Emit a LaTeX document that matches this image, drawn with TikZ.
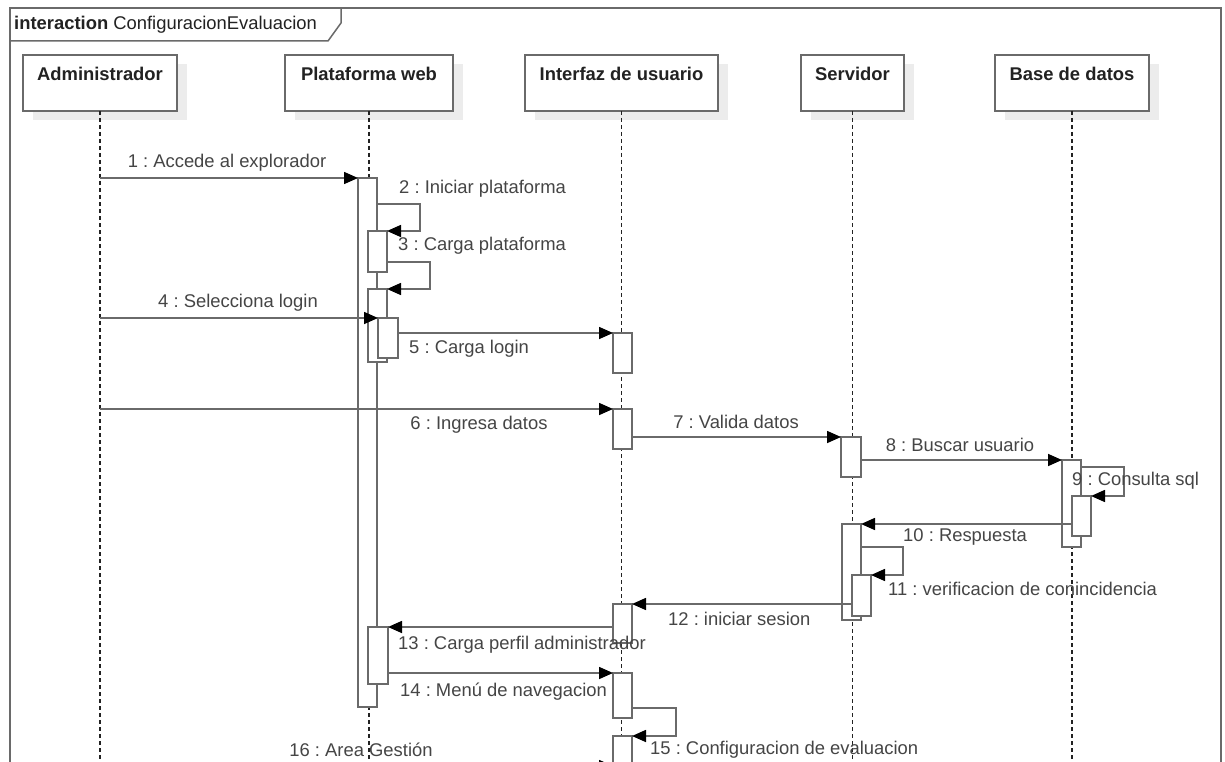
\documentclass[tikz,border=0pt]{standalone}
\usepackage{fontspec}
\setmainfont{Liberation Sans}
\usetikzlibrary{arrows.meta,calc,shadows}
\definecolor{ln}{HTML}{6A6A6A}
\definecolor{tx}{HTML}{454545}
\definecolor{hd}{HTML}{222222}
\definecolor{shd}{HTML}{ECECEC}
\frenchspacing
\begin{document}
\begin{tikzpicture}[x=1pt,y=-1pt,
  frame/.style={draw=ln, line width=1.5pt},
  head/.style={draw=ln, fill=white, line width=1.5pt, anchor=north west, outer sep=0pt, inner sep=0pt,
    general shadow={fill=shd, shadow xshift=10pt, shadow yshift=-9pt}},
  headlbl/.style={text=hd, font=\fontsize{18.4}{21}\selectfont\bfseries, anchor=north, yshift=-9pt},
  life/.style={draw=hd, line width=1.1pt, dash pattern=on 4pt off 3pt},
  bar/.style={draw=ln, fill=white, line width=1.6pt, anchor=north west, outer sep=0pt, inner sep=0pt},
  msg/.style={draw=ln, line width=1.6pt, -{Triangle[length=14pt,width=12pt,color=black]}},
  lbl/.style={text=tx, font=\fontsize{18.4}{21}\selectfont, inner sep=0pt},
]
\useasboundingbox (0,0) rectangle (1225,762);
\clip (0,0) rectangle (1225,762);
\fill[white] (0,0) rectangle (1225,762);

% frame
\draw[frame] (10,770) -- (10,8) -- (1221,8) -- (1221,770);
\draw[frame] (10,41) -- (328,41) -- (341,23) -- (341,8);
\node[anchor=west, inner sep=0pt, text=hd, font=\fontsize{18.4}{21}\selectfont] (title) at (14,25)
  {\textbf{interaction} ConfiguracionEvaluacion};

% headers
\node[head, minimum width=154pt, minimum height=56pt] (adm) at (23,55) {};
\node[head, minimum width=168pt, minimum height=56pt] (plat) at (285,55) {};
\node[head, minimum width=193pt, minimum height=56pt] (intf) at (525,55) {};
\node[head, minimum width=103pt, minimum height=56pt] (serv) at (801,55) {};
\node[head, minimum width=154pt, minimum height=56pt] (bd) at (995,55) {};
\node[headlbl] (admt) at (adm.north) {Administrador};
\node[headlbl] (platt) at (plat.north) {Plataforma web};
\node[headlbl] (intft) at (intf.north) {Interfaz de usuario};
\node[headlbl] (servt) at (serv.north) {Servidor};
\node[headlbl] (bdt) at (bd.north) {Base de datos};

% lifelines
\coordinate (bot) at (0,775);
\draw[life] (adm.south) -- (adm.south |- bot);
\draw[life] (plat.south) -- (plat.south |- bot);
\draw[life] (intf.south) -- (intf.south |- bot);
\draw[life] (serv.south) -- (serv.south |- bot);
\draw[life] (bd.south) -- (bd.south |- bot);

% activation bars
\node[bar, minimum width=19pt, minimum height=529pt] (p1) at (358,178) {};
\node[bar, minimum width=19pt, minimum height=41pt] (pA) at (368,231) {};
\node[bar, minimum width=19pt, minimum height=73pt] (pB) at (368,289) {};
\node[bar, minimum width=20pt, minimum height=40pt] (pC) at (378,318) {};
\node[bar, minimum width=20pt, minimum height=57pt] (pD) at (368,627) {};
\node[bar, minimum width=19pt, minimum height=40pt] (i1) at (613,333) {};
\node[bar, minimum width=19pt, minimum height=40pt] (i2) at (613,409) {};
\node[bar, minimum width=19pt, minimum height=39pt] (i3) at (613,604) {};
\node[bar, minimum width=19pt, minimum height=45pt] (i4) at (613,673) {};
\node[bar, minimum width=19pt, minimum height=50pt] (i5) at (613,736) {};
\node[bar, minimum width=20pt, minimum height=40pt] (s1) at (841,437) {};
\node[bar, minimum width=19pt, minimum height=96pt] (s2) at (842,524) {};
\node[bar, minimum width=19pt, minimum height=41pt] (s3) at (852,575) {};
\node[bar, minimum width=19pt, minimum height=87pt] (b1) at (1062,460) {};
\node[bar, minimum width=19pt, minimum height=40pt] (b2) at (1072,496) {};

% messages
\draw[msg] (adm.south |- p1.north west) -- (p1.north west);
\draw[msg] ($(p1.north east)+(0,26)$) -- ($(p1.north east)+(43,26)$) -- ($(pA.north east)+(33,0)$) -- (pA.north east);
\draw[msg] ($(pA.north east)+(0,31)$) -- ($(pA.north east)+(43,31)$) -- ($(pB.north east)+(43,0)$) -- (pB.north east);
\draw[msg] (adm.south |- pC.north west) -- (pC.north west);
\draw[msg] (pC.east |- i1.north west) -- (i1.north west);
\draw[msg] (adm.south |- i2.north west) -- (i2.north west);
\draw[msg] ($(i2.north east)+(0,28)$) -- (s1.north west);
\draw[msg] ($(s1.north east)+(0,23)$) -- (b1.north west);
\draw[msg] ($(b1.north east)+(0,7)$) -- ($(b1.north east)+(43,7)$) -- ($(b2.north east)+(33,0)$) -- (b2.north east);
\draw[msg] (b2.west |- s2.north east) -- (s2.north east);
\draw[msg] ($(s2.north east)+(0,23)$) -- ($(s2.north east)+(42,23)$) -- ($(s3.north east)+(32,0)$) -- (s3.north east);
\draw[msg] (s3.west |- i3.north east) -- (i3.north east);
\draw[msg] (i3.west |- pD.north east) -- (pD.north east);
\draw[msg] (pD.east |- i4.north west) -- (i4.north west);
\draw[msg] ($(i4.north east)+(0,35)$) -- ($(i4.north east)+(44,35)$) -- ($(i5.north east)+(44,0)$) -- (i5.north east);
\coordinate (m16) at (0,766);
\draw[msg] (adm.south |- m16) -- (i5.west |- m16);

% labels
\node[lbl] (l1) at (227,163) {1 : Accede al explorador};
\node[lbl, anchor=west] (l2) at (399,189) {2 : Iniciar plataforma};
\node[lbl, anchor=west] (l3) at (398,246) {3 : Carga plataforma};
\node[lbl] (l4) at (238,303) {4 : Selecciona login};
\node[lbl, anchor=west] (l5) at (409,349) {5 : Carga login};
\node[lbl] (l6) at (479,425) {6 : Ingresa datos};
\node[lbl] (l7) at (736,422) {7 : Valida datos};
\node[lbl] (l8) at (960,445) {8 : Buscar usuario};
\node[lbl, anchor=west] (l9) at (1072,481) {9 : Consulta sql};
\node[lbl, anchor=west] (l10) at (903,537) {10 : Respuesta};
\node[lbl, anchor=west] (l11) at (888,589) {11 : verificacion de conincidencia};
\node[lbl, anchor=west] (l12) at (668,619) {12 : iniciar sesion};
\node[lbl, anchor=west] (l13) at (398,645) {13 : Carga perfil administrador};
\node[lbl, anchor=west] (l14) at (400,692) {14 : Menú de navegacion};
\node[lbl, anchor=west] (l15) at (650,750) {15 : Configuracion de evaluacion};
\node[lbl] (l16) at (361,750) {16 : Area Gestión};
\end{tikzpicture}
\end{document}
